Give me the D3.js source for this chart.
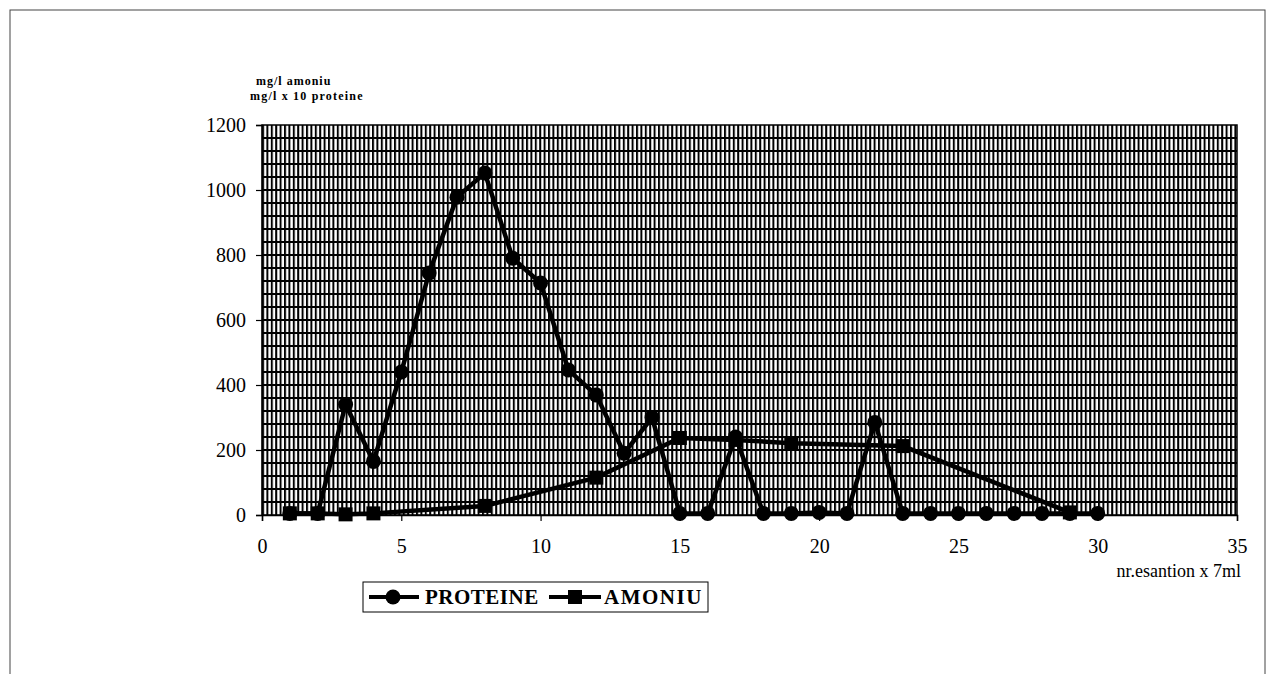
<!DOCTYPE html>
<html>
<head>
<meta charset="utf-8">
<script src="https://cdn.jsdelivr.net/npm/d3@7"></script>
<style>
  body { margin: 0; background: #fff; }
  #chart { width: 1268px; height: 674px; }
  text { font-family: "Liberation Serif", "Times New Roman", serif; }
</style>
</head>
<body>
<div id="chart"></div>
<script>
// sample number (x 7 ml)
const proteineX = [1, 2, 3, 4, 5, 6, 7, 8, 9, 10, 11, 12, 13, 14, 15, 16, 17, 18, 19, 20, 21, 22, 23, 24, 25, 26, 27, 28, 29, 30];
// mg/l x 10 proteine
const proteineY = [5, 5, 340, 165, 440, 745, 978, 1052, 790, 714, 446, 369, 190, 300, 5, 5, 240, 5, 5, 8, 5, 285, 5, 5, 5, 5, 5, 5, 5, 5];
// mg/l amoniu
const amoniuX = [1, 2, 3, 4, 8, 12, 15, 17, 19, 23, 29];
const amoniuY = [5, 5, 2, 5, 28, 115, 237, 231, 221, 212, 8];

const xTicks = [0, 5, 10, 15, 20, 25, 30, 35];
const yTicks = [0, 200, 400, 600, 800, 1000, 1200];
const seriesNames = ['PROTEINE', 'AMONIU'];

window.SampleChart = {
    create() {
        const container = d3.select('#chart');
        container.selectAll('*').remove();

        const svg = container.append('svg')
            .attr('width', 1268)
            .attr('height', 674);

        // outer frame of the scanned figure
        svg.append('rect')
            .attr('x', 10).attr('y', 10)
            .attr('width', 1255).attr('height', 680)
            .attr('fill', 'none')
            .attr('stroke', '#444')
            .attr('stroke-width', 1);

        const margin = { top: 125, left: 262 };
        const width = 975, height = 390;
        const g = svg.append('g').attr('transform', `translate(${margin.left},${margin.top})`);

        const scales = this.createScales(width, height);
        this.createBackground(svg, g, scales, width, height);
        this.createAxes(g, scales, width, height);
        this.createLines(g, scales);
        this.createLegend(svg);
    },

    createScales(width, height) {
        const xScale = d3.scaleLinear().domain([0, 35]).range([0, width]);
        const yScale = d3.scaleLinear().domain([0, 1200]).range([height, 0]);
        return { xScale, yScale };
    },

    createBackground(svg, g, scales, width, height) {
        const { yScale } = scales;
        // dense vertical hatch of the plot area
        const pat = svg.append('defs').append('pattern')
            .attr('id', 'vhatch')
            .attr('patternUnits', 'userSpaceOnUse')
            .attr('width', 4.4).attr('height', 10);
        pat.append('rect').attr('width', 4.4).attr('height', 10).attr('fill', '#fff');
        pat.append('rect').attr('x', 0).attr('width', 2).attr('height', 10).attr('fill', '#000');

        g.append('rect')
            .attr('width', width).attr('height', height)
            .attr('fill', 'url(#vhatch)');

        // horizontal gridlines every 40
        g.append('g').selectAll('line')
            .data(d3.range(40, 1200, 40))
            .join('line')
            .attr('x1', 0).attr('x2', width)
            .attr('y1', d => yScale(d)).attr('y2', d => yScale(d))
            .attr('stroke', '#000')
            .attr('stroke-width', 2);

        g.append('rect')
            .attr('width', width).attr('height', height)
            .attr('fill', 'none')
            .attr('stroke', '#000')
            .attr('stroke-width', 1.5);
    },

    createAxes(g, scales, width, height) {
        const { xScale, yScale } = scales;

        const xAxis = g.append('g')
            .attr('transform', `translate(0,${height})`)
            .call(d3.axisBottom(xScale).tickValues(xTicks).tickSize(6).tickPadding(18));
        const yAxis = g.append('g')
            .call(d3.axisLeft(yScale).tickValues(yTicks).tickFormat(d3.format('d')).tickSize(6).tickPadding(10));

        [xAxis, yAxis].forEach(a => {
            a.attr('font-family', '"Liberation Serif", serif').attr('font-size', 20);
            a.select('.domain').attr('stroke', '#000').attr('stroke-width', 1.5);
            a.selectAll('.tick line').attr('stroke', '#000').attr('stroke-width', 1.2);
            a.selectAll('.tick text').attr('fill', '#000');
        });

        // axis titles
        g.append('text')
            .attr('x', width + 4)
            .attr('y', height + 62)
            .attr('text-anchor', 'end')
            .style('font-size', '18px')
            .text('nr.esantion x 7ml');

        g.append('text')
            .attr('x', -6)
            .attr('y', -40)
            .style('font-size', '12px')
            .style('font-weight', 'bold')
            .style('letter-spacing', '1px')
            .text('mg/l amoniu');
        g.append('text')
            .attr('x', -12)
            .attr('y', -25)
            .style('font-size', '12px')
            .style('font-weight', 'bold')
            .style('letter-spacing', '1.2px')
            .text('mg/l x 10 proteine');
    },

    createLines(g, scales) {
        const { xScale, yScale } = scales;
        const line = d3.line().x(d => xScale(d[0])).y(d => yScale(d[1]));

        const prot = d3.zip(proteineX, proteineY);
        const amon = d3.zip(amoniuX, amoniuY);

        g.append('path')
            .datum(amon)
            .attr('d', line)
            .attr('fill', 'none')
            .attr('stroke', '#000')
            .attr('stroke-width', 4.5);

        g.append('g').selectAll('rect')
            .data(amon)
            .join('rect')
            .attr('x', d => xScale(d[0]) - 7)
            .attr('y', d => yScale(d[1]) - 7)
            .attr('width', 14).attr('height', 14)
            .attr('fill', '#000');

        g.append('path')
            .datum(prot)
            .attr('d', line)
            .attr('fill', 'none')
            .attr('stroke', '#000')
            .attr('stroke-width', 4.5);

        g.append('g').selectAll('circle')
            .data(prot)
            .join('circle')
            .attr('cx', d => xScale(d[0]))
            .attr('cy', d => yScale(d[1]))
            .attr('r', 7.5)
            .attr('fill', '#000');
    },

    createLegend(svg) {
        const lg = svg.append('g').attr('transform', 'translate(363,582)');
        lg.append('rect')
            .attr('width', 345).attr('height', 30)
            .attr('fill', '#fff')
            .attr('stroke', '#000')
            .attr('stroke-width', 1);

        // PROTEINE
        lg.append('line').attr('x1', 6).attr('x2', 56).attr('y1', 15).attr('y2', 15)
            .attr('stroke', '#000').attr('stroke-width', 4);
        lg.append('circle').attr('cx', 30).attr('cy', 15).attr('r', 7.5).attr('fill', '#000');
        lg.append('text').attr('x', 62).attr('y', 22)
            .style('font-size', '21px').style('font-weight', 'bold')
            .style('letter-spacing', '0.5px')
            .text(seriesNames[0]);

        // AMONIU
        lg.append('line').attr('x1', 186).attr('x2', 238).attr('y1', 15).attr('y2', 15)
            .attr('stroke', '#000').attr('stroke-width', 4);
        lg.append('rect').attr('x', 205).attr('y', 8).attr('width', 14).attr('height', 14).attr('fill', '#000');
        lg.append('text').attr('x', 241).attr('y', 22)
            .style('font-size', '21px').style('font-weight', 'bold')
            .style('letter-spacing', '1.5px')
            .text(seriesNames[1]);
    }
};

SampleChart.create();
</script>
</body>
</html>
